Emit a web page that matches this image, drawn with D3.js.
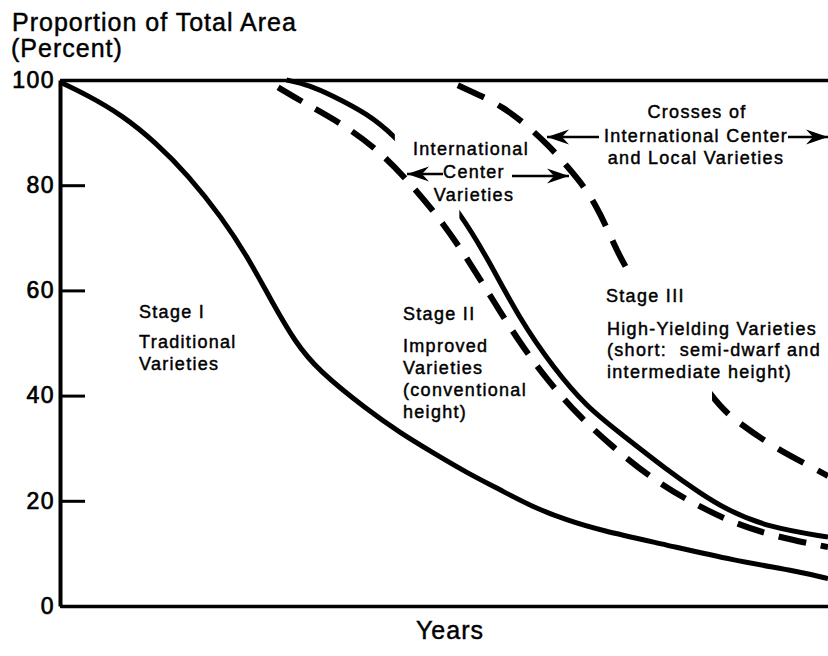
<!DOCTYPE html>
<html>
<head>
<meta charset="utf-8">
<script src="https://cdn.jsdelivr.net/npm/d3@7"></script>
<style>
  body { margin: 0; background: #fff; }
  svg { display: block; font-family: "Liberation Sans", Arial, Helvetica, sans-serif; }
  text { fill: #000; stroke: #000; stroke-width: 0.45px; }
  .note { font-size: 18px; letter-spacing: 1.3px; }
</style>
</head>
<body>
<svg width="828" height="656"></svg>
<script>
// y ticks (percent)
const yTicks = [0, 20, 40, 60, 80, 100];

// [year position (0-100 of the span), percent of total area]
// Stage I - traditional varieties (solid)
const stageOne = [
  [0, 99.6], [3.6, 97.1], [8.1, 93.3], [12.4, 88.2], [16.7, 81.9], [21.1, 73.8],
  [24.5, 66.2], [27.6, 57.8], [30.6, 50.2], [33.6, 44.8], [40.0, 37.3], [44.3, 32.9],
  [48.6, 29.1], [53.0, 25.3], [57.3, 22.1], [61.6, 18.8], [66.0, 16.3], [70.3, 14.4],
  [79.0, 11.6], [87.6, 8.7], [96.4, 6.5], [100, 5.2]
];

// Stage II - improved varieties, conventional height (solid)
const stageTwo = [
  [29.5, 100], [32.5, 99.0], [35.5, 97.0], [40.0, 93.6], [43.4, 89.6], [47.5, 83.0],
  [52.1, 74.7], [55.6, 66.3], [59.9, 54.4], [64.2, 45.4], [68.6, 37.8], [72.9, 32.9],
  [79.0, 25.9], [83.3, 21.5], [86.8, 18.3], [92.1, 15.0], [100, 13.1]
];
const stageTwoGap = [43.6, 52.0];

// International center varieties (dashed)
const centerVarieties = [
  [28.4, 98.6], [31.6, 95.8], [37.1, 91.4], [41.9, 86.1], [46.0, 79.7], [49.9, 72.8],
  [53.4, 65.2], [56.6, 57.6], [59.9, 50.0], [63.4, 43.0], [67.7, 35.9], [72.0, 30.2],
  [76.8, 24.5], [82.0, 19.8], [87.6, 15.8], [93.4, 13.1], [100, 11.2]
];

// Stage III - crosses of international center and local varieties (dashed)
const stageThree = [
  [51.8, 99.0], [55.1, 96.8], [57.6, 94.9], [60.5, 91.8], [63.8, 87.3], [66.1, 83.5],
  [68.6, 79.1], [70.3, 74.7], [72.1, 69.0], [73.8, 63.5], [85.0, 38.8], [88.2, 35.0],
  [93.1, 30.0], [98.6, 25.9], [100, 24.7]
];
const stageThreeGap = [74.0, 84.9];

const svg = d3.select('svg');
const width = +svg.attr('width');
const height = +svg.attr('height');
const margin = {top: 80, right: 0, bottom: 50, left: 60};

const x = d3.scaleLinear().domain([0, 100]).range([margin.left, width - margin.right]);
const y = d3.scaleLinear().domain([0, 100]).range([height - margin.bottom, margin.top]);

const line = d3.line()
  .x(d => x(d[0]))
  .y(d => y(d[1]))
  .curve(d3.curveBasis);

// masks that hide a stretch of a curve (where labels sit)
const defs = svg.append('defs');
function gapMask(id, gap) {
  const m = defs.append('mask').attr('id', id).attr('maskUnits', 'userSpaceOnUse')
    .attr('x', 0).attr('y', 0).attr('width', width).attr('height', height);
  m.append('rect').attr('width', width).attr('height', height).attr('fill', '#fff');
  m.append('rect').attr('x', x(gap[0])).attr('y', 0)
    .attr('width', x(gap[1]) - x(gap[0])).attr('height', height).attr('fill', '#000');
}
gapMask('gap2', stageTwoGap);
gapMask('gap3', stageThreeGap);

defs.append('marker')
  .attr('id', 'arrow')
  .attr('markerUnits', 'userSpaceOnUse')
  .attr('viewBox', '-24 -9 26 18')
  .attr('markerWidth', 26).attr('markerHeight', 18)
  .attr('refX', 0).attr('refY', 0)
  .attr('orient', 'auto')
  .append('path')
  .attr('d', 'M0,0 L-22,-7.5 L-15,0 L-22,7.5 Z')
  .attr('fill', '#000')
  .attr('stroke', 'none');

//----------------------------- axes -----------------------------//
const yAxis = svg.append('g')
  .attr('transform', `translate(${margin.left},0)`)
  .call(d3.axisLeft(y).tickValues(yTicks).tickSizeInner(-25).tickSizeOuter(0).tickPadding(5));
yAxis.select('.domain').attr('stroke-width', 4).attr('stroke', '#000');
yAxis.selectAll('.tick line').attr('stroke-width', 3).attr('stroke', '#000');
yAxis.selectAll('.tick text')
  .style('font-size', '23px')
  .style('letter-spacing', '1.5px')
  .style('stroke-width', '0.7px')
  .attr('font-family', '"Liberation Sans", Arial, sans-serif')
  .attr('fill', '#000');

const topAxis = svg.append('g')
  .attr('transform', `translate(0,${y(100)})`)
  .call(d3.axisTop(x).tickValues([]).tickSizeOuter(0));
topAxis.select('.domain').attr('stroke-width', 3.5).attr('stroke', '#000');

const bottomAxis = svg.append('g')
  .attr('transform', `translate(0,${y(0)})`)
  .call(d3.axisBottom(x).tickValues([]).tickSizeOuter(0));
bottomAxis.select('.domain').attr('stroke-width', 3.5).attr('stroke', '#000');

svg.append('text')
  .attr('x', 12).attr('y', 31)
  .style('font-size', '25px').style('letter-spacing', '1px')
  .text('Proportion of Total Area');
svg.append('text')
  .attr('x', 11).attr('y', 57)
  .style('font-size', '25px').style('letter-spacing', '1px')
  .text('(Percent)');

svg.append('text')
  .attr('x', 450).attr('y', 639)
  .attr('text-anchor', 'middle')
  .style('font-size', '25px').style('letter-spacing', '1px')
  .text('Years');

//----------------------------- curves -----------------------------//
svg.append('path').datum(stageOne)
  .attr('d', line).attr('fill', 'none').attr('stroke', '#000').attr('stroke-width', 5);

svg.append('path').datum(stageTwo)
  .attr('d', line).attr('fill', 'none').attr('stroke', '#000').attr('stroke-width', 5)
  .attr('mask', 'url(#gap2)');

svg.append('path').datum(centerVarieties)
  .attr('d', line).attr('fill', 'none').attr('stroke', '#000').attr('stroke-width', 6)
  .attr('stroke-dasharray', '28,15');

svg.append('path').datum(stageThree)
  .attr('d', line).attr('fill', 'none').attr('stroke', '#000').attr('stroke-width', 6)
  .attr('stroke-dasharray', '29,16')
  .attr('mask', 'url(#gap3)');

//----------------------------- notes -----------------------------//
const notes = [
  {t: 'Stage I', x: 139, y: 318},
  {t: 'Traditional', x: 139, y: 348},
  {t: 'Varieties', x: 139, y: 370},
  {t: 'Stage II', x: 403, y: 320},
  {t: 'Improved', x: 403, y: 352},
  {t: 'Varieties', x: 403, y: 374},
  {t: '(conventional', x: 403, y: 396},
  {t: 'height)', x: 403, y: 418},
  {t: 'Stage III', x: 606, y: 302},
  {t: 'High-Yielding Varieties', x: 607, y: 335},
  {t: '(short:  semi-dwarf and', x: 607, y: 356},
  {t: 'intermediate height)', x: 607, y: 378},
  {t: 'International', x: 471, y: 155, a: 'middle'},
  {t: 'Center', x: 474, y: 178, a: 'middle'},
  {t: 'Varieties', x: 474, y: 201, a: 'middle'},
  {t: 'Crosses of', x: 697, y: 118, a: 'middle'},
  {t: 'International Center', x: 696, y: 142, a: 'middle'},
  {t: 'and Local Varieties', x: 696, y: 164, a: 'middle'}
];
svg.selectAll('text.note').data(notes).enter().append('text')
  .attr('class', 'note')
  .attr('x', d => d.x).attr('y', d => d.y)
  .attr('text-anchor', d => d.a || 'start')
  .style('white-space', 'pre')
  .text(d => d.t);

const arrows = [
  [443, 174, 407, 174],
  [512, 176, 569, 176],
  [599, 137, 547, 137],
  [788, 137, 828, 137]
];
svg.selectAll('line.arrow').data(arrows).enter().append('line')
  .attr('class', 'arrow')
  .attr('x1', d => d[0]).attr('y1', d => d[1])
  .attr('x2', d => d[2]).attr('y2', d => d[3])
  .attr('stroke', '#000').attr('stroke-width', 2.5)
  .attr('marker-end', 'url(#arrow)');
</script>
</body>
</html>
